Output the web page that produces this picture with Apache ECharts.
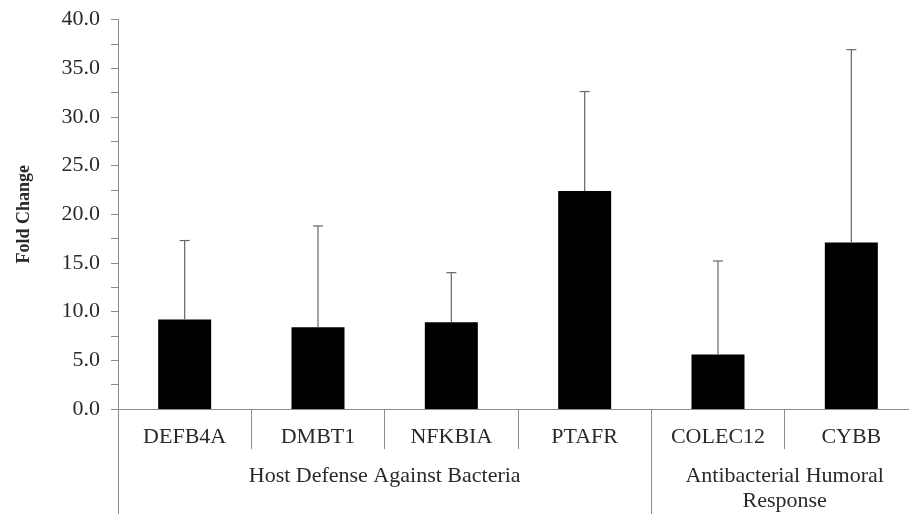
<!DOCTYPE html>
<html>
<head>
<meta charset="utf-8">
<script src="https://cdn.jsdelivr.net/npm/echarts@6/dist/echarts.min.js"></script>
<style>
html,body{margin:0;padding:0;background:#fff;}
#chart{width:909px;height:514px;}
</style>
</head>
<body>
<div id="chart"></div>
<script>
var genes = ['DEFB4A', 'DMBT1', 'NFKBIA', 'PTAFR', 'COLEC12', 'CYBB'];
var foldChange = [9.2, 8.4, 8.9, 22.4, 5.6, 17.1];
var errorUpper = [8.1, 10.4, 5.1, 10.2, 9.6, 19.8];
var groupNames = ['Host Defense Against Bacteria', 'Antibacterial Humoral\nResponse'];
var groupCenters = [2, 5];
var groupBounds = [0, 4, 6];
var yTicks = [0, 40, 5];

var FONT = '"Liberation Serif", "Times New Roman", serif';
var AXIS = '#8c8c8c';
var TEXT = '#2a2a2a';

var errData = genes.map(function (g, i) { return [i, foldChange[i], foldChange[i] + errorUpper[i]]; });

var chart = echarts.init(document.getElementById('chart'));
chart.setOption({
  animation: false,
  backgroundColor: '#fff',
  grid: { left: 118, top: 19.5, width: 800, height: 389.5, containLabel: false, outerBoundsMode: 'none' },
  xAxis: [
    {
      type: 'category',
      data: genes,
      boundaryGap: true,
      axisLine: { show: true, lineStyle: { color: AXIS, width: 1 } },
      axisTick: { show: true, interval: 0, length: 40, alignWithLabel: false, lineStyle: { color: AXIS } },
      axisLabel: { interval: 0, margin: 17, color: TEXT, fontFamily: FONT, fontSize: 22 },
      splitLine: { show: false }
    },
    {
      type: 'value',
      position: 'bottom',
      min: 0, max: 6,
      axisLine: { show: false },
      axisTick: { show: true, customValues: groupBounds, length: 105, lineStyle: { color: AXIS } },
      axisLabel: {
        show: true, customValues: groupCenters, margin: 55,
        color: TEXT, fontFamily: FONT, fontSize: 22, lineHeight: 25, align: 'center',
        formatter: function (v) { var i = groupCenters.indexOf(Math.round(v)); return i >= 0 ? groupNames[i] : ''; }
      },
      splitLine: { show: false }
    }
  ],
  yAxis: {
    type: 'value',
    min: yTicks[0], max: yTicks[1], interval: yTicks[2],
    name: 'Fold Change',
    nameLocation: 'middle',
    nameGap: 85,
    nameRotate: 90,
    nameTextStyle: { fontFamily: FONT, fontWeight: 'bold', fontSize: 18, color: TEXT },
    axisLine: { show: true, lineStyle: { color: AXIS, width: 1 } },
    axisTick: { show: true, length: 7, lineStyle: { color: AXIS } },
    minorTick: { show: true, splitNumber: 2, length: 7, lineStyle: { color: AXIS } },
    axisLabel: { margin: 18, color: TEXT, fontFamily: FONT, fontSize: 22, formatter: function (v) { return v.toFixed(1); } },
    splitLine: { show: false }
  },
  series: [
    {
      type: 'bar',
      data: foldChange,
      barWidth: 53,
      itemStyle: { color: '#000' },
      z: 2
    },
    {
      type: 'custom',
      data: errData,
      z: 3,
      renderItem: function (params, api) {
        var x = api.value(0);
        var p0 = api.coord([x, api.value(1)]);
        var p1 = api.coord([x, api.value(2)]);
        var half = 5;
        var st = { stroke: '#666', lineWidth: 1.2 };
        return {
          type: 'group',
          children: [
            { type: 'line', shape: { x1: p0[0], y1: p0[1], x2: p1[0], y2: p1[1] }, style: st },
            { type: 'line', shape: { x1: p1[0] - half, y1: p1[1], x2: p1[0] + half, y2: p1[1] }, style: st }
          ]
        };
      }
    }
  ]
});
</script>
</body>
</html>
